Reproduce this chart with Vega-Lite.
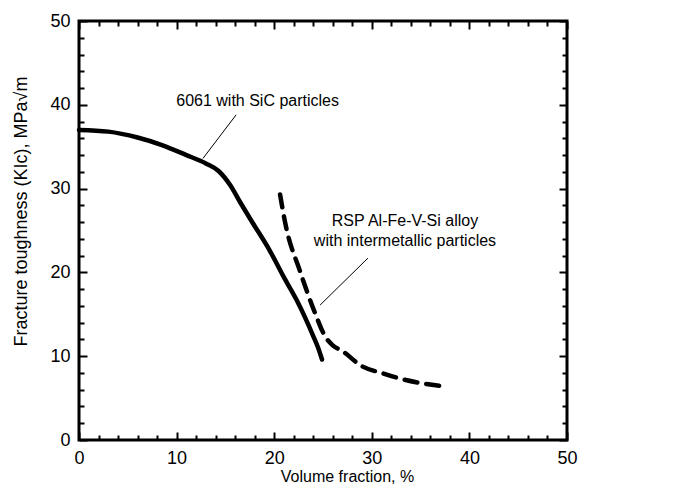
{
  "$schema": "https://vega.github.io/schema/vega-lite/v6.json",
  "width": 488,
  "height": 419,
  "autosize": "none",
  "padding": {"left": 79, "top": 21, "right": 108, "bottom": 53},
  "config": {
    "view": {"stroke": "black", "strokeWidth": 3},
    "font": "Liberation Sans",
    "axis": {"domain": false, "grid": false, "tickColor": "black", "tickWidth": 2, "labelColor": "black", "titleColor": "black", "labelFont": "Liberation Sans", "titleFont": "Liberation Sans", "labelFontSize": 18, "titleFontSize": 16, "titleFontWeight": "normal"}
  },
  "datasets": {
    "sic": [
      {"v": 0, "k": 37.0}, {"v": 3, "k": 36.8}, {"v": 6, "k": 36.1}, {"v": 8.5, "k": 35.2},
      {"v": 11, "k": 34.0}, {"v": 13, "k": 33.0}, {"v": 14.3, "k": 32.1}, {"v": 15.5, "k": 30.4},
      {"v": 16.5, "k": 28.4}, {"v": 17.8, "k": 25.9}, {"v": 19.5, "k": 22.7}, {"v": 21, "k": 19.4},
      {"v": 22.3, "k": 16.7}, {"v": 24, "k": 12.4}, {"v": 24.5, "k": 11.0}, {"v": 24.9, "k": 9.6}
    ],
    "rsp": [
      {"v": 20.6, "k": 29.3}, {"v": 21.2, "k": 25.5}, {"v": 22.6, "k": 20.3}, {"v": 24.2, "k": 15.1},
      {"v": 25.2, "k": 12.4}, {"v": 26, "k": 11.3}, {"v": 27, "k": 10.6}, {"v": 29, "k": 8.8},
      {"v": 31, "k": 8.0}, {"v": 33, "k": 7.3}, {"v": 35, "k": 6.8}, {"v": 37.4, "k": 6.4}
    ],
    "labels": [
      {"v": 18.3, "k": 40.4, "t": "6061 with SiC particles"},
      {"v": 33.4, "k": 26.1, "t": "RSP Al-Fe-V-Si alloy"},
      {"v": 33.4, "k": 23.8, "t": "with intermetallic particles"}
    ],
    "leaders": [
      {"v": 12.7, "k": 33.6, "v2": 16.1, "k2": 38.8},
      {"v": 24.7, "k": 16.1, "v2": 29.6, "k2": 21.7}
    ]
  },
  "layer": [
    {
      "data": {"name": "sic"},
      "mark": {"type": "line", "color": "black", "strokeWidth": 4.5, "interpolate": "monotone", "strokeCap": "round"},
      "encoding": {
        "x": {"field": "v", "type": "quantitative", "scale": {"domain": [0, 50], "nice": false},
          "axis": {"orient": "bottom", "title": "Volume fraction, %", "values": [0,2,4,6,8,10,12,14,16,18,20,22,24,26,28,30,32,34,36,38,40,42,44,46,48,50],
            "labelExpr": "datum.value % 10 === 0 ? datum.label : ''",
            "tickSize": {"condition": {"test": "datum.value % 10 === 0", "value": -8}, "value": -5},
            "labelPadding": 17, "labelFlush": false,
            "titleX": 268, "titleY": 36, "titleBaseline": "middle", "titleAlign": "center"}},
        "y": {"field": "k", "type": "quantitative", "scale": {"domain": [0, 50], "nice": false},
          "axis": {"orient": "left", "title": "Fracture toughness (KIc), MPa√m", "values": [0,2,4,6,8,10,12,14,16,18,20,22,24,26,28,30,32,34,36,38,40,42,44,46,48,50],
            "labelExpr": "datum.value % 10 === 0 ? datum.label : ''",
            "tickSize": {"condition": {"test": "datum.value % 10 === 0", "value": -8}, "value": -5},
            "labelPadding": 17, "labelFlush": false, "titleFontSize": 18,
            "titleX": -58, "titleY": 190, "titleAngle": -90, "titleBaseline": "middle", "titleAlign": "center"}}
      }
    },
    {
      "data": {"name": "rsp"},
      "mark": {"type": "line", "color": "black", "strokeWidth": 4.5, "interpolate": "monotone", "strokeDash": [13, 9], "strokeCap": "round"},
      "encoding": {
        "x": {"field": "v", "type": "quantitative",
          "axis": {"orient": "top", "title": null, "labels": false, "values": [0,2,4,6,8,10,12,14,16,18,20,22,24,26,28,30,32,34,36,38,40,42,44,46,48,50],
            "tickSize": {"condition": {"test": "datum.value % 10 === 0", "value": -8}, "value": -5}}},
        "y": {"field": "k", "type": "quantitative",
          "axis": {"orient": "right", "title": null, "labels": false, "values": [0,2,4,6,8,10,12,14,16,18,20,22,24,26,28,30,32,34,36,38,40,42,44,46,48,50],
            "tickSize": {"condition": {"test": "datum.value % 10 === 0", "value": -8}, "value": -5}}}
      }
    },
    {
      "data": {"name": "leaders"},
      "mark": {"type": "rule", "color": "black", "strokeWidth": 1},
      "encoding": {
        "x": {"field": "v", "type": "quantitative", "axis": null},
        "y": {"field": "k", "type": "quantitative", "axis": null},
        "x2": {"field": "v2"},
        "y2": {"field": "k2"}
      }
    },
    {
      "data": {"name": "labels"},
      "mark": {"type": "text", "color": "black", "fontSize": 16, "font": "Liberation Sans", "align": "center", "baseline": "middle"},
      "encoding": {
        "x": {"field": "v", "type": "quantitative", "axis": null},
        "y": {"field": "k", "type": "quantitative", "axis": null},
        "text": {"field": "t"}
      }
    }
  ],
  "resolve": {"axis": {"x": "independent", "y": "independent"}}
}
